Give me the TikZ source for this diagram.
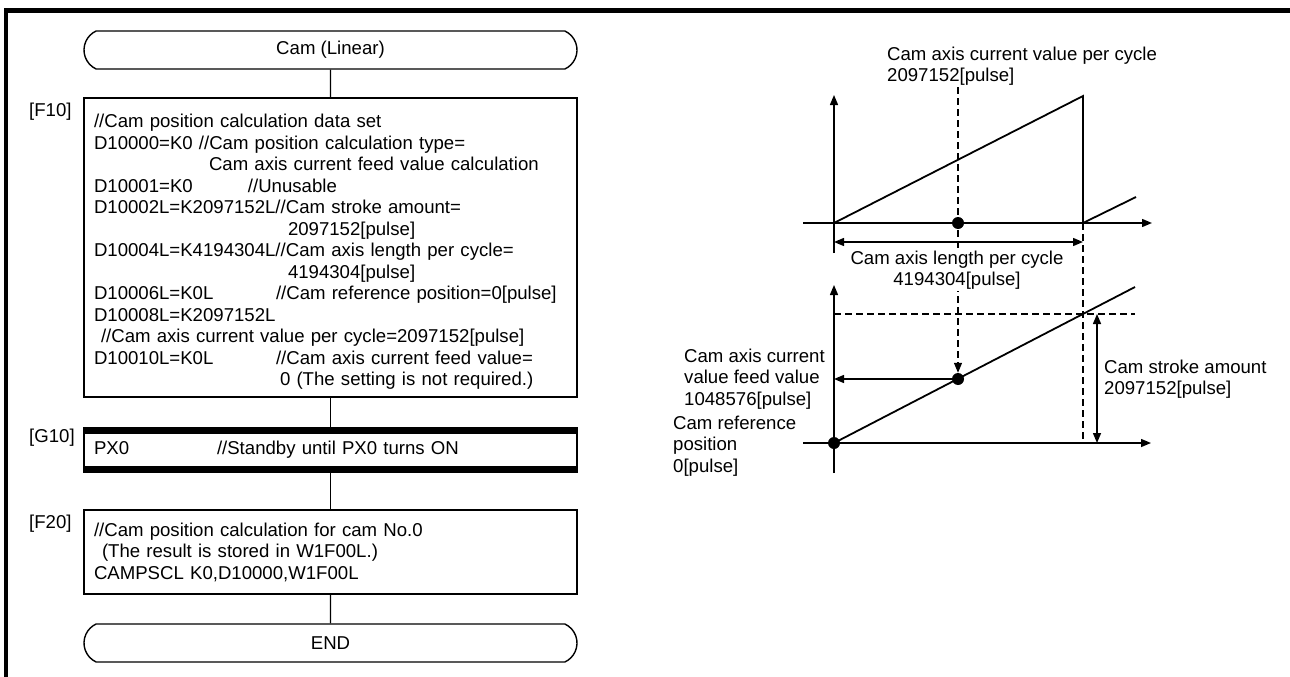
\documentclass[tikz,border=0pt]{standalone}
\usepackage{fontspec}
\setmainfont{Liberation Sans}
\usepackage{tikz}
\usetikzlibrary{arrows.meta,shapes.misc}
\newcommand{\txtsz}{\fontsize{18.6}{21.5}\selectfont}
\tikzset{
  term/.style={rounded rectangle, rounded rectangle arc length=130, draw=black,
               line width=1.4pt, minimum width=493pt, minimum height=38pt,
               inner sep=0pt, font=\txtsz},                          % start / end
  prog/.style={rectangle, draw=black, line width=1.4pt, text width=473pt,
               inner xsep=10pt, align=left, font=\txtsz},            % program step
  tag/.style={anchor=west, inner sep=0pt, font=\txtsz},             % [F10] etc.
  fl/.style={draw=black, line width=1.4pt},                          % flow line
  ax/.style={draw=black, line width=1.4pt, -{Triangle[length=10pt,width=8pt]}},
  dimar/.style={draw=black, line width=1.4pt,
                {Triangle[length=10pt,width=8pt]}-{Triangle[length=10pt,width=8pt]}},
  dsh/.style={draw=black, line width=1.2pt, dash pattern=on 7pt off 4pt},
  cv/.style={draw=black, line width=1.8pt},                          % cam curve
  dotm/.style={circle, fill=black, minimum size=12pt, inner sep=0pt},
  note/.style={inner sep=0pt, align=left, font=\txtsz},
}

\begin{document}
\begin{tikzpicture}[x=1pt,y=-1pt]
  \useasboundingbox (0,0) rectangle (1290,677);
  \draw[line width=4.2pt] (6,677) -- (6,10.5) -- (1292,10.5);

  % flow chart
  \node[term] (st) at (330.5,50) {Cam (Linear)};
  \node[prog, minimum height=299pt] (f10) at (330.5,247.5) {%
    \rule{0pt}{22pt}//Cam position calculation data set\\
    D10000=K0 //Cam position calculation type=\\
    \hspace*{115pt}Cam axis current feed value calculation\\
    \makebox[154pt][l]{D10001=K0}//Unusable\\
    D10002L=K2097152L//Cam stroke amount=\\
    \hspace*{194pt}2097152[pulse]\\
    D10004L=K4194304L//Cam axis length per cycle=\\
    \hspace*{194pt}4194304[pulse]\\
    \makebox[182pt][l]{D10006L=K0L}//Cam reference position=0[pulse]\\
    D10008L=K2097152L\\
    \hspace*{7pt}//Cam axis current value per cycle=2097152[pulse]\\
    \makebox[182pt][l]{D10010L=K0L}//Cam axis current feed value=\\
    \hspace*{186pt}0 (The setting is not required.)};
  \node[prog, minimum height=44pt] (g10) at (330.5,450)
    {\makebox[123pt][l]{PX0}//Standby until PX0 turns ON};
  \fill (g10.north west) rectangle ([yshift=-7pt]g10.north east);
  \fill ([yshift=7pt]g10.south west) rectangle (g10.south east);
  \node[prog, minimum height=84pt] (f20) at (330.5,552) {%
    //Cam position calculation for cam No.0\\
    \hspace*{8pt}(The result is stored in W1F00L.)\\
    CAMPSCL K0,D10000,W1F00L};
  \node[term] (en) at (330.5,643) {END};
  \node[tag] (tf10) at (29,112) {[F10]};
  \node[tag] (tg10) at (29,438) {[G10]};
  \node[tag] (tf20) at (29,524) {[F20]};
  \foreach \u/\v in {st/f10,f10/g10,g10/f20,f20/en} \draw[fl] (\u)--(\v);

  % upper graph
  \draw[ax] (834,253) -- (834,95);
  \draw[ax] (803,223) -- (1152,223);
  \draw[cv] (834,223) -- (1083,96) -- (1083,223) -- (1136,197);
  \draw[dimar] (834,242) -- (1083,242);
  \draw[dsh] (1083,223) -- (1083,443);
  \node[dotm] (d1) at (958,223) {};
  \node[dotm] (d2) at (958,379) {};
  \draw[dsh, -{Triangle[length=10pt,width=8pt]}] (958,87) -- (d2.north);
  \node[note, align=center, fill=white, inner sep=2pt] (lblen) at (957,270)
    {Cam axis length per cycle\\4194304[pulse]};
  \node[note, anchor=west] (lbcyc) at (887,66)
    {Cam axis current value per cycle\\2097152[pulse]};

  % lower graph
  \draw[ax] (834,473) -- (834,285);
  \draw[ax] (803,443) -- (1151,443);
  \draw[dsh] (834,314) -- (1135,314);
  \draw[cv] (834,443) -- (1135,287);
  \node[dotm] (d0) at (834,443) {};
  \draw[ax] (d2) -- (834,379);
  \draw[dimar] (1097,314) -- (1097,443);
  \node[note, anchor=west] (lbfeed) at (684,379)
    {Cam axis current\\value feed value\\1048576[pulse]};
  \node[note, anchor=west] (lbref) at (673,446)
    {Cam reference\\position\\0[pulse]};
  \node[note, anchor=west] (lbstk) at (1104,379)
    {Cam stroke amount\\2097152[pulse]};
\end{tikzpicture}
\end{document}
